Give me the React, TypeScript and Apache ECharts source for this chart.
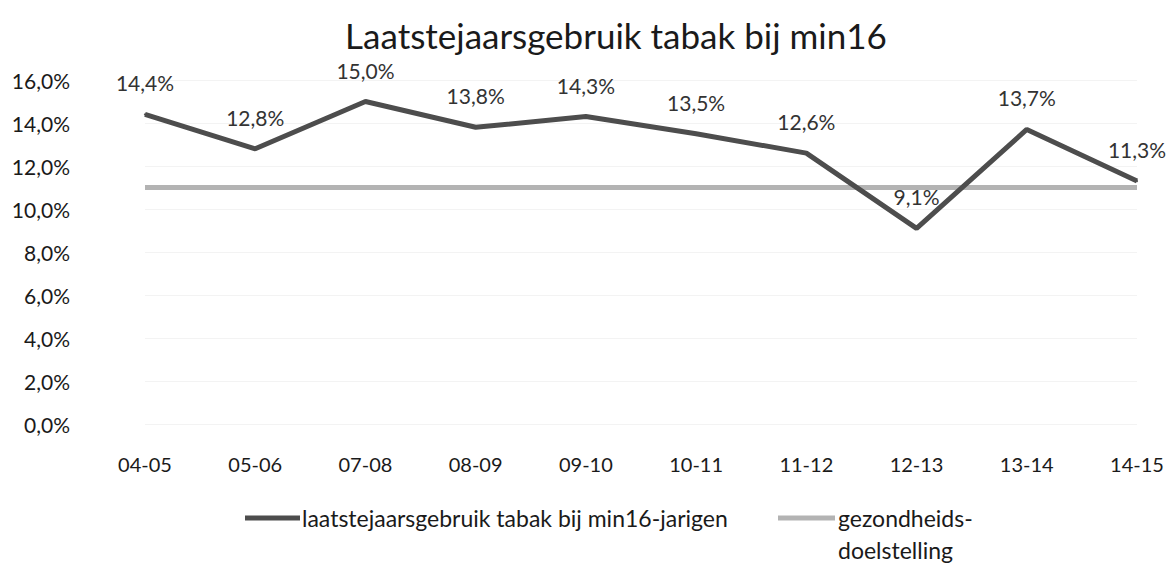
import React, { useEffect, useRef } from "react";
import * as echarts from "echarts";

const categories = ["04-05", "05-06", "07-08", "08-09", "09-10", "10-11", "11-12", "12-13", "13-14", "14-15"];
const usage = [14.4, 12.8, 15.0, 13.8, 14.3, 13.5, 12.6, 9.1, 13.7, 11.3];
const goal = [11.0, 11.0, 11.0, 11.0, 11.0, 11.0, 11.0, 11.0, 11.0, 11.0];
const yTicks = [0, 2, 4, 6, 8, 10, 12, 14, 16];
const seriesNames = ["laatstejaarsgebruik tabak bij min16-jarigen", "gezondheids-\ndoelstelling"];

const FONT = "Lato, 'Open Sans', sans-serif";
const fmt = (v: number) => v.toFixed(1).replace(".", ",") + "%";

export default function App() {
  const ref = useRef<HTMLDivElement>(null);
  useEffect(() => {
    document.body.style.margin = "0";
    if (!ref.current) return;
    const chart = echarts.init(ref.current, undefined, { renderer: "svg" });
    chart.setOption({
      animation: false,
      backgroundColor: "#ffffff",
      textStyle: { fontFamily: FONT },
      title: {
        text: "Laatstejaarsgebruik tabak bij min16",
        left: 611,
        textAlign: "center",
        top: 12,
        textStyle: { fontFamily: FONT, fontSize: 35, fontWeight: "normal", color: "#1a1a1a" },
      },
      grid: { left: 145, right: 34, top: 80, bottom: 140, containLabel: false },
      xAxis: {
        type: "category",
        data: categories,
        boundaryGap: false,
        axisLine: { show: false },
        axisTick: { show: false },
        axisLabel: { margin: 30, fontSize: 20, color: "#1a1a1a", fontFamily: FONT },
        splitLine: { show: false },
      },
      yAxis: {
        type: "value",
        min: yTicks[0],
        max: yTicks[yTicks.length - 1],
        interval: 2,
        axisLine: { show: false },
        axisTick: { show: false },
        axisLabel: { margin: 75, fontSize: 21, color: "#1a1a1a", fontFamily: FONT, formatter: (v: number) => fmt(v) },
        splitLine: { show: true, lineStyle: { color: "#f3f3f3", width: 1 } },
      },
      series: [
        {
          name: seriesNames[0],
          type: "line",
          data: usage,
          symbol: "circle",
          symbolSize: 2,
          showSymbol: true,
          lineStyle: { color: "#4d4d4d", width: 5 },
          itemStyle: { color: "#4d4d4d" },
          label: {
            show: true,
            position: "top",
            distance: 20,
            fontSize: 21,
            color: "#333333",
            opacity: 1,
            fontFamily: FONT,
            formatter: (p: any) => fmt(p.value),
          },
          z: 3,
        },
        {
          name: seriesNames[1],
          type: "line",
          data: goal,
          symbol: "none",
          lineStyle: { color: "#b3b3b3", width: 5 },
          itemStyle: { color: "#b3b3b3" },
          z: 2,
        },
      ],
      graphic: [
        { type: "line", shape: { x1: 245, y1: 518, x2: 300, y2: 518 }, style: { stroke: "#4d4d4d", lineWidth: 5 } },
        {
          type: "text",
          x: 302,
          y: 518,
          style: { text: seriesNames[0], fontFamily: FONT, fontSize: 23, fill: "#1a1a1a", verticalAlign: "middle" },
        },
        { type: "line", shape: { x1: 778, y1: 518, x2: 835, y2: 518 }, style: { stroke: "#b3b3b3", lineWidth: 5 } },
        {
          type: "text",
          x: 838,
          y: 502,
          style: { text: seriesNames[1], fontFamily: FONT, fontSize: 23, lineHeight: 32, fill: "#1a1a1a", verticalAlign: "top" },
        },
      ],
    });
    return () => chart.dispose();
  }, []);
  return <div ref={ref} style={{ width: 1171, height: 564 }} />;
}
